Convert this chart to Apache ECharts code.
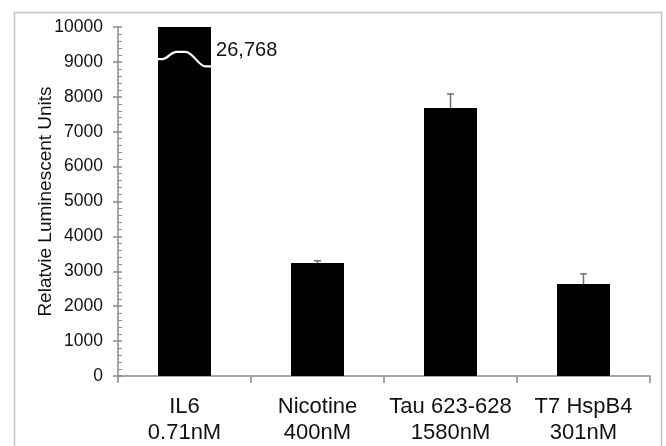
<!DOCTYPE html>
<html>
<head>
<meta charset="utf-8">
<script src="https://cdn.jsdelivr.net/npm/echarts@6/dist/echarts.min.js"></script>
<style>
html,body{margin:0;padding:0;background:#fff;}
#chart{width:666px;height:446px;}
</style>
</head>
<body>
<div id="chart"></div>
<script>
// ---- data ----
var categories = ['IL6\n0.71nM', 'Nicotine\n400nM', 'Tau 623-628\n1580nM', 'T7 HspB4\n301nM'];
var values = [26768, 3240, 7680, 2636];
var errors = [0, 60, 400, 290];
var axisMin = 0;
var axisMax = 10000;
var axisInterval = 1000;
// break marker on the off-scale bar (value levels of the wavy cut)
var breakLevels = [9080, 9290, 8870];

var chart = echarts.init(document.getElementById('chart'), null, {renderer: 'canvas'});
var axisColor = '#8a8a8a';
var fontFam = '"Liberation Sans", Arial, Helvetica, sans-serif';

var errData = values.map(function (v, i) { return [i, v, errors[i]]; });
var breakData = values.map(function (v, i) { return [i, v]; }).filter(function (d) { return d[1] > axisMax; });

var option = {
  animation: false,
  backgroundColor: '#fff',
  graphic: [{
    type: 'rect',
    shape: {x: 14.5, y: 12.5, width: 647, height: 460},
    style: {fill: 'none', stroke: '#c4c4c4', lineWidth: 1.5},
    z: -10
  }],
  grid: {left: 118, right: 16, top: 27, bottom: 70},
  xAxis: {
    type: 'category',
    data: categories,
    boundaryGap: true,
    axisLine: {lineStyle: {color: axisColor, width: 1.5}},
    axisTick: {show: true, length: 7, interval: 0, lineStyle: {color: axisColor, width: 1.5}},
    axisLabel: {interval: 0, margin: 18, fontSize: 22, lineHeight: 26, color: '#111', fontFamily: fontFam}
  },
  yAxis: [{
    type: 'value',
    min: axisMin, max: axisMax, interval: axisInterval,
    name: 'Relatvie Luminescent Units',
    nameLocation: 'middle',
    nameGap: 63,
    nameMoveOverlap: false,
    nameTextStyle: {fontSize: 19, color: '#111', fontFamily: fontFam},
    axisLine: {show: true, lineStyle: {color: axisColor, width: 1.5}},
    axisTick: {show: true, inside: false, length: 5, lineStyle: {color: axisColor, width: 1.5}},
    axisLabel: {margin: 15, fontSize: 17.5, color: '#111', fontFamily: fontFam,
      formatter: function (v) { return String(v); }},
    splitLine: {show: false}
  }, {
    type: 'value',
    position: 'left',
    min: axisMin, max: axisMax, interval: axisInterval,
    axisLine: {show: false},
    axisTick: {show: true, inside: true, length: 4, lineStyle: {color: axisColor, width: 1.5}},
    minorTick: {show: true, splitNumber: 5, length: 4, lineStyle: {color: axisColor, width: 1}},
    axisLabel: {show: false},
    splitLine: {show: false}
  }],
  series: [{
    type: 'bar',
    data: values,
    barWidth: 53,
    clip: true,
    itemStyle: {color: '#000'},
    z: 2
  }, {
    type: 'custom',
    data: errData,
    z: 3,
    renderItem: function (params, api) {
      var i = api.value(0), v = api.value(1), e = api.value(2);
      if (!e) return null;
      var p0 = api.coord([i, v]);
      var p1 = api.coord([i, v + e]);
      var cap = 3.5;
      return {
        type: 'group',
        children: [{
          type: 'line',
          shape: {x1: p0[0], y1: p0[1], x2: p1[0], y2: p1[1]},
          style: {stroke: '#6e6e6e', lineWidth: 1.5}
        }, {
          type: 'line',
          shape: {x1: p1[0] - cap, y1: p1[1], x2: p1[0] + cap, y2: p1[1]},
          style: {stroke: '#6e6e6e', lineWidth: 1.5}
        }]
      };
    }
  }, {
    type: 'custom',
    data: breakData,
    z: 4,
    renderItem: function (params, api) {
      var i = api.value(0), v = api.value(1);
      var c = api.coord([i, breakLevels[0]]);
      var w = api.size([1, 0])[0] * 0.4;
      var x0 = c[0] - w / 2, x1 = c[0] + w / 2;
      var yA = api.coord([i, breakLevels[0]])[1];
      var yB = api.coord([i, breakLevels[1]])[1];
      var yC = api.coord([i, breakLevels[2]])[1];
      var path = 'M' + (x0 - 1) + ' ' + yA +
        ' L' + (x0 + w * 0.08) + ' ' + yA +
        ' C' + (x0 + w * 0.2) + ' ' + yA + ' ' + (x0 + w * 0.22) + ' ' + yB + ' ' + (x0 + w * 0.36) + ' ' + yB +
        ' L' + (x0 + w * 0.52) + ' ' + yB +
        ' C' + (x0 + w * 0.66) + ' ' + yB + ' ' + (x0 + w * 0.76) + ' ' + yC + ' ' + (x0 + w * 0.9) + ' ' + yC +
        ' L' + (x1 + 1) + ' ' + yC;
      var lp = api.coord([i, breakLevels[1]]);
      return {
        type: 'group',
        children: [{
          type: 'path',
          shape: {pathData: path},
          style: {fill: 'none', stroke: '#fff', lineWidth: 2.2}
        }, {
          type: 'text',
          x: x1 + 5,
          y: lp[1] - 1,
          style: {
            text: echarts.format.addCommas(v),
            fontSize: 20,
            fontFamily: fontFam,
            fill: '#111',
            verticalAlign: 'middle',
            align: 'left'
          }
        }]
      };
    }
  }]
};
chart.setOption(option);
</script>
</body>
</html>
